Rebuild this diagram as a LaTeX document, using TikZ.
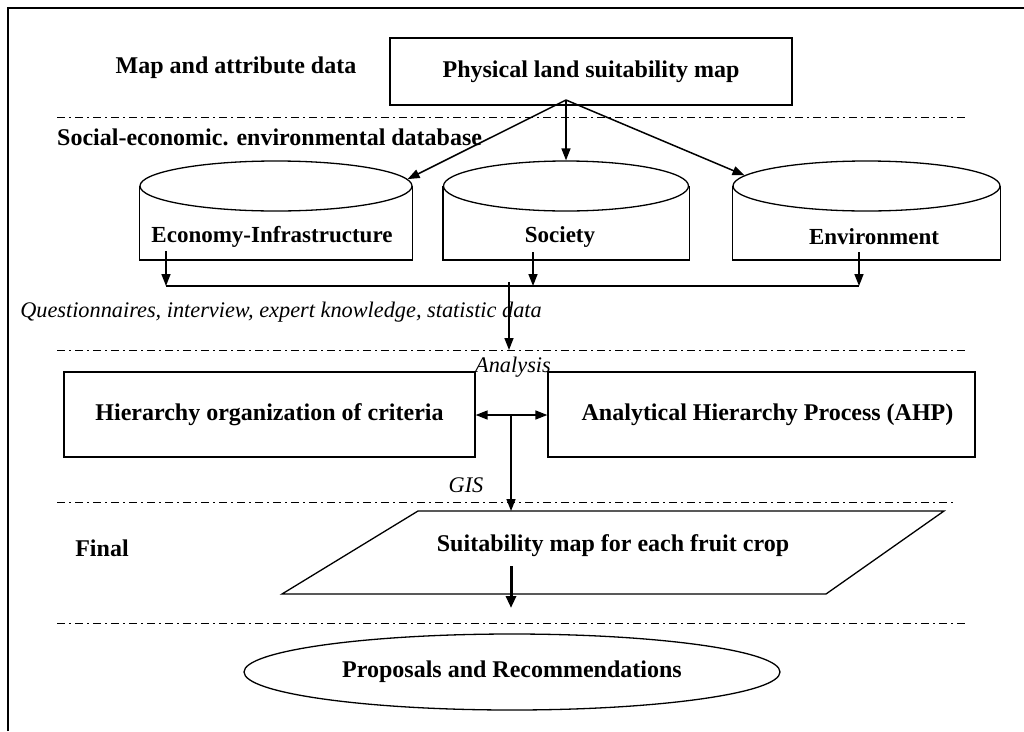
\documentclass[tikz,border=0pt]{standalone}
\usepackage{fontspec}
\setmainfont{Liberation Serif}
\usetikzlibrary{arrows.meta,shapes.geometric,calc}
\begin{document}
\begin{tikzpicture}[x=1pt,y=-1pt,
  lbl/.style={font=\fontsize{24}{26}\selectfont\bfseries, inner sep=0pt},
  clbl/.style={font=\fontsize{23}{25}\selectfont\bfseries, inner sep=0pt},
  itl/.style={font=\fontsize{22.3}{24}\selectfont\itshape, inner sep=0pt},
  sep/.style={line width=1pt, dash pattern=on 8pt off 4pt on 2pt off 4pt},
  box/.style={draw, line width=1.3pt, inner sep=0pt, lbl},
  cyltop/.style={draw, ellipse, line width=1.3pt, inner sep=0pt},
  arr/.style={-{Triangle[length=12pt,width=9pt]}, line width=1.5pt},
  ln/.style={line width=1.5pt},
  ]
\useasboundingbox (0,0) rectangle (1024,731);
% frame
\draw[line width=1.5pt] (8,731) -- (8,8) -- (1024,8);

% separators
\draw[sep] (57,117) -- (965,117);
\draw[sep] (57,350) -- (965,350);
\draw[sep] (57,502) -- (955,502);
\draw[sep] (57,623) -- (965,623);

% level 1
\node[lbl] (lmap) at (236,68) {Map and attribute data};
\node[box, minimum width=402pt, minimum height=67pt] (pls) at (591,71.5) {Physical land suitability map};
\coordinate (o) at (566,100);

% level 2
\node[lbl, anchor=west] (lsoc) at (57,137) {Social-economic. environmental database};

\node[cyltop, minimum width=272pt, minimum height=50pt] (ecotop) at (276,186) {};
\draw[ln, line width=1.3pt] (ecotop.west) -- ++(0,74) -- ($(ecotop.east)+(0,74)$) -- (ecotop.east);
\node[clbl] (eco) at (272,237) {Economy-Infrastructure};

\node[cyltop, minimum width=245pt, minimum height=50pt] (soctop) at (566,186) {};
\draw[ln, line width=1.3pt] (soctop.west) -- ++(0,74) -- ($(soctop.east)+(0,74)$) -- (soctop.east);
\node[clbl] (soc) at (560,237) {Society};

\node[cyltop, minimum width=267pt, minimum height=50pt] (envtop) at (866.5,186) {};
\draw[ln, line width=1.3pt] (envtop.west) -- ++(0,74) -- ($(envtop.east)+(0,74)$) -- (envtop.east);
\node[clbl] (env) at (874,237) {Environment};

\draw[arr] (o) -- (ecotop.3);
\draw[arr] (o) -- (soctop.north);
\draw[arr] (o) -- (envtop.175);

% collection
\coordinate (c1) at (166,251);
\coordinate (c2) at (533,252);
\coordinate (c3) at (859,252);
\coordinate (h1) at (166,286);
\coordinate (h2) at (533,286);
\coordinate (h3) at (859,286);
\draw[arr] (c1) -- (h1);
\draw[arr] (c2) -- (h2);
\draw[arr] (c3) -- (h3);
\draw[ln] (h1) -- (h3);
\node[itl] (quest) at (281,312) {Questionnaires, interview, expert knowledge, statistic data};
\coordinate (v1) at (509,282);
\coordinate (v2) at (509,350);
\draw[arr] (v1) -- (v2);

% level 3
\node[itl] (lana) at (513,367) {Analysis};
\node[box, minimum width=411pt, minimum height=85pt] (hier) at (269.5,414.5) {Hierarchy organization of criteria};
\node[box, minimum width=427pt, minimum height=85pt] (ahp) at (761.5,414.5) {\hspace*{12pt}Analytical Hierarchy Process (AHP)};
\draw[{Triangle[length=12pt,width=9pt]}-{Triangle[length=12pt,width=9pt]}, line width=1.5pt] (hier.east |- 0,415) coordinate (dl) -- (ahp.west |- 0,415) coordinate (dr);
\coordinate (g1) at (511,415);
\node[itl] (lgis) at (466,485) {GIS};

% level 4
\node[lbl] (lfin) at (102,548) {Final};
\coordinate (pa) at (418,511);
\coordinate (pb) at (944,511);
\coordinate (pc) at (826,594);
\coordinate (pd) at (282,594);
\draw[line width=1.3pt] (pa) -- (pb) -- (pc) -- (pd) -- cycle;
\node[lbl] (suit) at (613,546) {Suitability map for each fruit crop};
\coordinate (g2) at (511,511);
\draw[arr] (g1) -- (g2);
\coordinate (t1) at (511,566);
\coordinate (t2) at (511,608);
\draw[-{Triangle[length=12pt,width=10pt]}, line width=3pt] (t1) -- (t2);

% level 5
\node[draw, ellipse, line width=1.3pt, minimum width=536pt, minimum height=76pt, lbl] (prop) at (512,672) {Proposals and Recommendations};
\end{tikzpicture}
\end{document}
